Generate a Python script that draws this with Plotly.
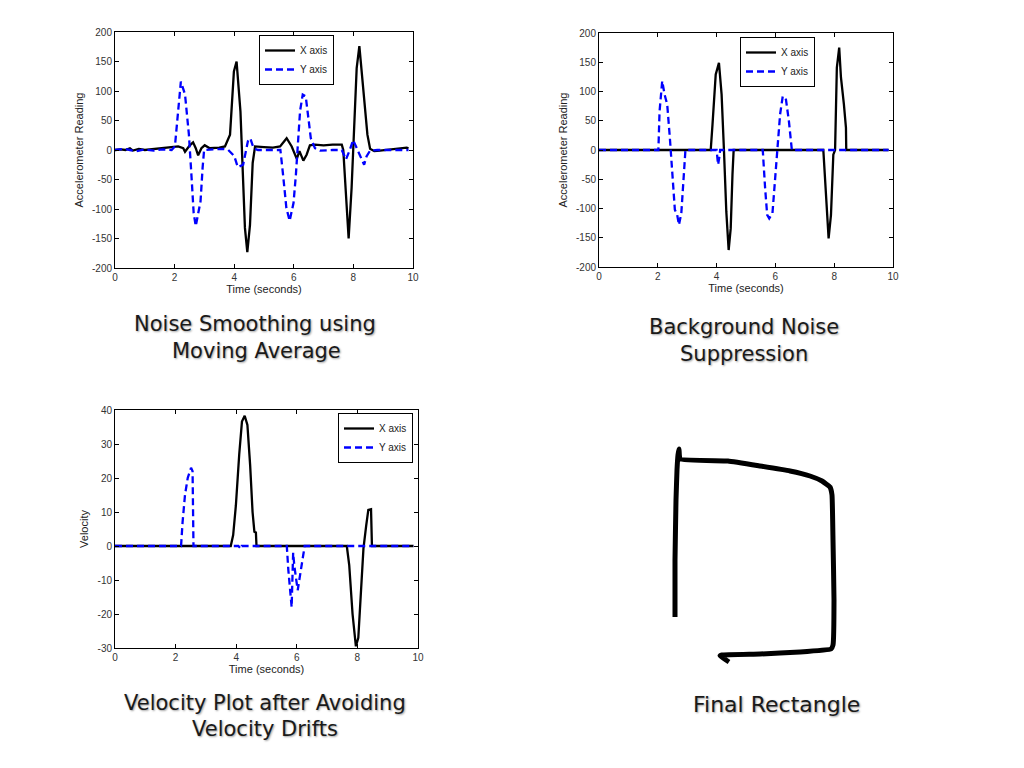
import plotly.graph_objects as go

W, H = 1024, 768

# ---------------- Data ----------------
# Plot 1: Noise smoothing using moving average
t1_x = [0.0, 0.2, 0.35, 0.5, 0.6, 0.8, 1.0, 1.2, 1.4, 1.6, 1.8, 2.0, 2.12, 2.29, 2.35, 2.51, 2.62, 2.71,
        2.79, 2.9, 3.01, 3.18, 3.5, 3.69, 3.86, 3.99, 4.08, 4.21, 4.30, 4.36, 4.44, 4.53, 4.62, 4.70,
        5.0, 5.3, 5.54, 5.76, 5.93, 6.10, 6.19, 6.32, 6.43, 6.54, 6.71, 7.0, 7.3, 7.61, 7.66, 7.75,
        7.84, 7.94, 8.02, 8.11, 8.20, 8.28, 8.39, 8.47, 8.56, 8.7, 8.89, 9.1, 9.3, 9.5, 9.7, 9.79, 9.85]
v1_x = [0, 1, 0, 3, -1, 2, 0, 1, 2, 3, 4, 5, 6, 3, -3, 8, 13, 3,
        -9, 3, 8, 3, 4, 6, 26, 133, 150, 65, -47, -132, -173, -127, -22, 6,
        5, 4, 6, 20, 6, -15, -2, -18, -8, 8, 9, 8, 9, 9, 0, -76,
        -150, -64, 26, 139, 176, 128, 71, 26, 2, -2, -1, 0, 1, 2, 3, 4, 3]

t1_y = [0.0, 0.3, 0.5, 0.7, 1.0, 1.3, 1.6, 1.9, 2.01, 2.1, 2.21, 2.35, 2.48, 2.57, 2.64, 2.71, 2.79,
        2.87, 2.94, 2.99, 3.3, 3.6, 3.8, 4.0, 4.12, 4.3, 4.46, 4.54, 4.65, 4.8, 5.2, 5.55, 5.64,
        5.75, 5.86, 5.99, 6.07, 6.12, 6.21, 6.30, 6.40, 6.49, 6.57, 6.71, 6.88, 7.3, 7.61, 7.75,
        7.88, 7.99, 8.11, 8.22, 8.36, 8.44, 8.56, 8.8, 9.3, 9.85]
v1_y = [0, 2, 0, -2, 1, -1, 1, 0, 6, 60, 116, 94, 26, -47, -107, -129, -107,
        -87, -30, 0, 1, 2, 0, -10, -29, -25, 15, 20, 3, 0, 0, 0, -42,
        -98, -120, -90, -42, 3, 66, 94, 91, 54, 20, 3, -1, 0, 0, -16,
        0, 17, 3, -11, -25, -11, -1, 0, 0, 0]

# Plot 2: Background noise suppression
t2_x = [0.0, 3.80, 3.86, 3.97, 4.08, 4.17, 4.25, 4.33, 4.41, 4.48, 4.54, 4.57, 4.58, 7.63, 7.72,
        7.81, 7.89, 7.97, 8.03, 8.09, 8.17, 8.23, 8.33, 8.40, 8.41, 9.85]
v2_x = [0, 0, 43, 129, 149, 95, 0, -105, -171, -134, -42, -20, 0, 0, -88,
        -151, -111, -8, 0, 141, 175, 124, 78, 38, 0, 0]

t2_y = [0.0, 2.02, 2.06, 2.15, 2.23, 2.32, 2.41, 2.51, 2.58, 2.66, 2.72, 2.80, 2.87, 2.93, 2.94,
        4.0, 4.05, 4.1, 4.12, 5.57, 5.59, 5.65, 5.72, 5.79, 5.90, 5.99, 6.08, 6.16, 6.25,
        6.36, 6.46, 6.53, 6.56, 9.85]
v2_y = [0, 0, 66, 118, 95, 78, 21, -42, -102, -111, -128, -108, -60, -11, 0,
        0, -25, -10, 0, 0, -19, -65, -111, -117, -108, -54, 0, 61, 92,
        86, 49, 9, 0, 0]

# Plot 3: Velocity after avoiding velocity drifts
t3_x = [0.0, 3.82, 3.90, 3.99, 4.10, 4.19, 4.28, 4.37, 4.46, 4.54, 4.60, 4.65, 4.67, 7.65, 7.73,
        7.84, 7.95, 8.03, 8.12, 8.20, 8.29, 8.36, 8.45, 8.48, 9.85]
v3_x = [0, 0, 3.2, 12, 27, 36.6, 38.3, 35.6, 23.8, 10, 4.2, 4, 0, 0, -5.6,
        -20, -29.5, -27, -13, -0.7, 6, 10.6, 10.8, 0, 0]

t3_y = [0.0, 2.18, 2.23, 2.31, 2.40, 2.51, 2.56, 2.59, 4.07, 4.15, 4.18, 5.67, 5.72, 5.78, 5.83,
        5.86, 5.88, 5.92, 5.97, 6.03, 6.10, 6.18, 6.26, 9.85]
v3_y = [0, 0, 7, 15, 20, 23, 22, 0, 0, -0.8, 0, 0, -7, -12, -18,
        -8, -2, -6, -10, -13, -9, -5, 0, 0]

# Final rectangle (drawn trajectory, drawing units)
rect_x = [675, 675, 676, 677, 678, 679, 680, 728, 760, 790, 810, 822, 830, 832, 833, 834, 833,
          831, 800, 760, 722, 720, 729]
rect_y = [617, 560, 500, 470, 455, 449, 459, 461, 466, 471, 476, 481, 487, 495, 540, 600, 645,
          649, 652, 654, 655, 656, 662]

x_ticks = [0, 2, 4, 6, 8, 10]
acc_ticks = [200, 150, 100, 50, 0, -50, -100, -150, -200]
vel_ticks = [40, 30, 20, 10, 0, -10, -20, -30]

captions = [
    ("Noise Smoothing using", 255, 324, 21), ("Moving Average", 256, 351, 21),
    ("Background Noise", 744, 327, 21), ("Suppression", 744, 354, 21),
    ("Velocity Plot after Avoiding", 265, 703, 21), ("Velocity Drifts", 265, 729, 21),
    ("Final Rectangle", 776, 704, 22),
]

# ---------------- Figure ----------------
BLACK = "black"
BLUE = "#0000ff"
LW = 2.3
DASH = "7px,4px"

fig = go.Figure()

def add_pair(tx, vx, ty, vy, xa, ya, leg):
    fig.add_trace(go.Scatter(x=tx, y=vx, mode="lines", name="X axis",
                             line=dict(color=BLACK, width=LW), xaxis=xa, yaxis=ya, legend=leg))
    fig.add_trace(go.Scatter(x=ty, y=vy, mode="lines", name="Y axis",
                             line=dict(color=BLUE, width=LW, dash=DASH), xaxis=xa, yaxis=ya, legend=leg))

add_pair(t1_x, v1_x, t1_y, v1_y, "x", "y", "legend")
add_pair(t2_x, v2_x, t2_y, v2_y, "x2", "y2", "legend2")
add_pair(t3_x, v3_x, t3_y, v3_y, "x3", "y3", "legend3")

fig.add_trace(go.Scatter(x=rect_x, y=rect_y, mode="lines", showlegend=False,
                         line=dict(color="black", width=5, shape="spline", smoothing=0.3),
                         xaxis="x4", yaxis="y4"))

tickfont = dict(family="Liberation Sans, Arial", size=10, color="#333")
titlefont = dict(family="Liberation Sans, Arial", size=11, color="#222")

def xax(x0, x1, anchor):
    return dict(domain=[x0 / W, x1 / W], range=[0, 10], anchor=anchor, automargin=False,
                tickvals=x_ticks, ticktext=[str(v) for v in x_ticks],
                showline=True, linecolor="black", linewidth=1, mirror="ticks",
                ticks="inside", ticklen=4, tickcolor="black", showgrid=False, zeroline=False,
                tickfont=tickfont, title=dict(text="Time (seconds)", font=titlefont, standoff=1))

def yax(y0, y1, anchor, rng, ticks, title):
    return dict(domain=[1 - y1 / H, 1 - y0 / H], range=rng, anchor=anchor, automargin=False,
                tickvals=ticks, ticktext=[str(v) for v in ticks],
                showline=True, linecolor="black", linewidth=1, mirror="ticks",
                ticks="inside", ticklen=4, tickcolor="black", showgrid=False, zeroline=False,
                tickfont=tickfont, title=dict(text=title, font=titlefont, standoff=6))

def legend_at(x_right, y_top):
    return dict(x=x_right / W, xanchor="right", y=1 - y_top / H, yanchor="top",
                bgcolor="white", bordercolor="black", borderwidth=1,
                font=dict(family="Liberation Sans, Arial", size=10, color="#222"),
                itemwidth=30, tracegroupgap=0)

annotations = []
for text, cx, cy, fs in captions:
    annotations.append(dict(text=text, x=cx / W, y=1 - cy / H, xref="paper", yref="paper",
                            xanchor="center", yanchor="middle", showarrow=False,
                            font=dict(family="DejaVu Sans", size=fs, color="#1a1a1a",
                                      shadow="1px 1px 2px #a0a0a0")))

# rectangle drawing area (hidden axes)
RX0, RX1, RY0, RY1 = 640, 870, 430, 680

fig.update_layout(
    width=W, height=H, margin=dict(l=0, r=0, t=0, b=0, pad=0, autoexpand=False),
    paper_bgcolor="white", plot_bgcolor="rgba(0,0,0,0)",
    xaxis=xax(115, 413, "y"),
    yaxis=yax(32, 268, "x", [-200, 200], acc_ticks, "Accelerometer Reading"),
    xaxis2=xax(599, 893, "y2"),
    yaxis2=yax(33, 267, "x2", [-200, 200], acc_ticks, "Accelerometer Reading"),
    xaxis3=xax(115, 418, "y3"),
    yaxis3=yax(410, 648, "x3", [-30, 40], vel_ticks, "Velocity"),
    xaxis4=dict(domain=[RX0 / W, RX1 / W], range=[RX0, RX1], anchor="y4", visible=False),
    yaxis4=dict(domain=[1 - RY1 / H, 1 - RY0 / H], range=[RY1, RY0], anchor="x4", visible=False),
    legend=legend_at(334, 35),
    legend2=legend_at(815, 37),
    legend3=legend_at(413, 413),
    annotations=annotations,
    showlegend=True,
)

fig.write_html("out.html", config={"displayModeBar": False},
               post_script="document.body.style.margin='0';document.body.style.overflow='hidden';")
